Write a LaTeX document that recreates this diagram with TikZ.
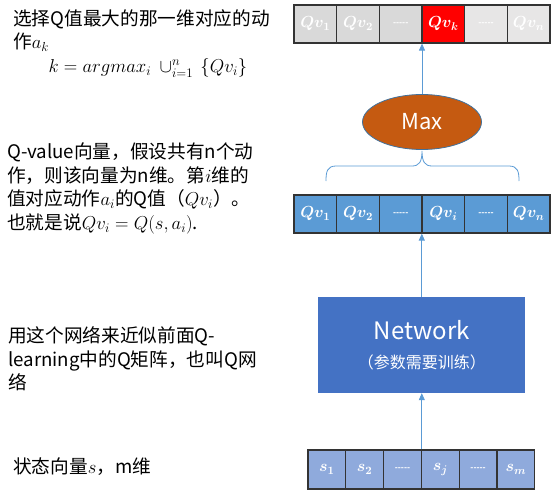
\documentclass[tikz,border=0pt]{standalone}
\usepackage{fix-cm}
\usepackage{amsmath,bm}
\usepackage{fontspec}
\setmainfont{Noto Sans CJK SC}
\usetikzlibrary{arrows.meta,shapes.geometric}
\definecolor{qgray}{HTML}{D9D9D9}
\definecolor{qlight}{HTML}{E7E6E6}
\definecolor{qred}{HTML}{FF0000}
\definecolor{qblue}{HTML}{5B9BD5}
\definecolor{netblue}{HTML}{4472C4}
\definecolor{sblue}{HTML}{8FAADC}
\definecolor{maxbrown}{HTML}{C55A11}
\definecolor{maxedge}{HTML}{41719C}
\definecolor{linkblue}{HTML}{5B9BD5}
\newcommand{\cellgap}{{\fontsize{8}{8}\selectfont\textbf{{-}{-}{-}{-}{-}}}}
\begin{document}
\begin{tikzpicture}[x=1pt,y=-1pt,
    cell/.style={draw=black!80,line width=1.2pt,minimum width=42.67pt,
        minimum height=38pt,inner sep=0pt,text=white,
        font=\fontsize{16}{18}\selectfont\boldmath},
    scell/.style={cell,minimum width=37.8pt,minimum height=39pt},
    arr/.style={draw=linkblue,line width=0.8pt,-{Triangle[width=6pt,length=7pt]}},
    note/.style={anchor=north west,align=left,inner sep=0pt,
        font=\fontsize{18.67}{23.5}\selectfont}]
    \useasboundingbox (0,0) rectangle (559,500);

    % chosen action
    \node[cell,fill=qgray]  (k1) at (315.3,24) {$Qv_1$};
    \node[cell,fill=qgray]  (k2) at (358.0,24) {$Qv_2$};
    \node[cell,fill=qgray]  (k3) at (400.7,24) {\cellgap};
    \node[cell,fill=qred]   (k4) at (443.3,24) {$Qv_k$};
    \node[cell,fill=qlight] (k5) at (486.0,24) {\cellgap};
    \node[cell,fill=qlight] (k6) at (528.7,24) {$Qv_n$};

    \node[ellipse,draw=maxedge,line width=0.8pt,fill=maxbrown,
        minimum width=119pt,minimum height=55pt,text=white,
        font=\fontsize{22}{26}\selectfont] (max) at (422,122) {Max};
    \draw[arr] (max.north) -- (max.north |- k3.south);

    % Q-value vector
    \node[cell,fill=qblue] (q1) at (315.3,214) {$Qv_1$};
    \node[cell,fill=qblue] (q2) at (358.0,214) {$Qv_2$};
    \node[cell,fill=qblue] (q3) at (400.7,214) {\cellgap};
    \node[cell,fill=qblue] (q4) at (443.3,214) {$Qv_i$};
    \node[cell,fill=qblue] (q5) at (486.0,214) {\cellgap};
    \node[cell,fill=qblue] (q6) at (528.7,214) {$Qv_n$};

    \coordinate (tip) at (422,151);
    \draw[linkblue,line width=0.8pt] (326,181) .. controls (326,172) and (327,166) .. (336,166)
        -- (412,166) .. controls (419,166) and (422,162) .. (tip)
        .. controls (422,162) and (425,166) .. (432,166)
        -- (509,166) .. controls (518,166) and (519,172) .. (519,181);

    % network
    \node[fill=netblue,minimum width=207pt,minimum height=96pt,text=white,
        align=center,font=\fontsize{16}{20}\selectfont] (net) at (421.8,345)
        {{\fontsize{24}{28}\selectfont Network}\\[9pt]（参数需要训练）};
    \draw[arr] (net.north) -- (net.north |- q3.south);

    % state vector
    \node[scell,fill=sblue] (s1) at (326.9,469.5) {$s_1$};
    \node[scell,fill=sblue] (s2) at (364.7,469.5) {$s_2$};
    \node[scell,fill=sblue] (s3) at (402.5,469.5) {\cellgap};
    \node[scell,fill=sblue] (s4) at (440.3,469.5) {$s_j$};
    \node[scell,fill=sblue] (s5) at (478.1,469.5) {\cellgap};
    \node[scell,fill=sblue] (s6) at (515.9,469.5) {$s_m$};
    \draw[arr] (net.south |- s3.north) -- (net.south);

    % notes
    \node[note] (n1) at (13,9) {选择Q值最大的那一维对应的动\\作$a_k$};
    \node[font=\fontsize{18.67}{23.5}\selectfont,inner sep=0pt] (n1b) at (148,68)
        {$k = argmax_i\ \cup_{i=1}^{n}\,\{Qv_i\}$};
    \node[note] (n2) at (7,143) {Q-value向量，假设共有n个动\\作，则该向量为n维。第$i$维的\\值对应动作$a_i$的Q值（$Qv_i$）。\\也就是说$Qv_i = Q(s,a_i)$.};
    \node[note] (n3) at (8,326.5) {用这个网络来近似前面Q-\\learning中的Q矩阵，也叫Q网\\络};
    \node[note] (n4) at (13,458) {状态向量$s$，m维};
\end{tikzpicture}
\end{document}
